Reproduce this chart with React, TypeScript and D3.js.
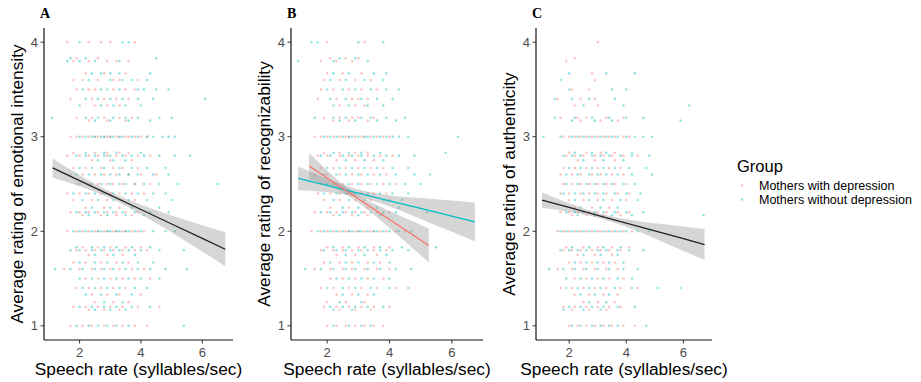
import React from "react";
import * as d3 from "d3";

// ---------- data ----------
const groups = ["Mothers with depression", "Mothers without depression"];
const groupColors = ["#F8766D", "#00BFC4"];
const panelLetters = ["A", "B", "C"];
const yTitles = [
  "Average rating of emotional intensity",
  "Average rating of recognizability",
  "Average rating of authenticity",
];
const xTitle = "Speech rate (syllables/sec)";
const xTicks = [2, 4, 6];
const yTicks = [1, 2, 3, 4];
const xDomain = [0.84, 7.0];
const yDomain = [0.85, 4.15];

type Row = [number, string, string]; // rating, x values (with depression), x values (without depression)

const scatterA: Row[] = [
  [4.0, "1.6 2.3 2.7 3.0 3.8", "2.0 3.4 3.6"],
  [3.83, "1.9 2.6", "1.7 2.2 4.5"],
  [3.8, "1.8 2.3 2.9 3.2 3.6", "1.6 2.0 2.5 3.3"],
  [3.67, "2.2 2.8 3.5", "2.4 2.7 3.0 3.3 4.3"],
  [3.6, "1.8 2.1 2.6 3.1 3.3 3.9", "2.3 3.0 3.4 3.7 4.2"],
  [3.5, "1.9 2.3 2.5 3.1 3.5 3.8", "2.1 2.7 2.9 3.3 3.9 4.1 4.5 4.9"],
  [3.4, "1.7 2.4 2.8 3.2 3.6", "2.2 2.6 3.0 3.4 3.9 4.4 6.1"],
  [3.33, "2.5 2.9 3.3", "2.0 2.7 3.1 3.5 4.0"],
  [3.2, "1.9 2.4 2.8 3.3 3.7", "1.1 2.2 2.6 3.1 3.5 3.9 4.6 5.0"],
  [3.17, "2.3 2.9 3.5", "2.5 3.0 3.6 4.3"],
  [3.0, "1.7 1.9 2.1 2.3 2.5 2.6 2.8 2.9 3.0 3.2 3.3 3.5 3.6 3.8 4.0 4.2", "2.0 2.2 2.4 2.5 2.7 2.8 3.0 3.1 3.3 3.4 3.7 3.9 4.2 4.4 4.7 4.9 5.1"],
  [2.83, "1.8 2.5 2.9 3.3 3.6", "2.2 2.8 3.2 4.0"],
  [2.8, "1.6 2.0 2.3 2.6 2.9 3.2 3.5 3.9 4.3", "1.9 2.2 2.5 2.8 3.0 3.4 3.7 4.1 4.6 5.1 5.6"],
  [2.75, "2.4 3.0 3.7", "2.6 3.1 3.5"],
  [2.67, "1.8 2.2 2.7 3.1 3.4 3.9", "2.0 2.4 2.8 3.3 3.7 4.2 4.8"],
  [2.6, "1.7 2.1 2.5 2.8 3.2 3.6 4.0 4.5", "1.9 2.3 2.7 3.0 3.3 3.6 3.9 4.4 4.9"],
  [2.5, "1.9 2.3 2.6 2.9 3.1 3.4 3.8 4.3", "2.0 2.4 2.7 3.0 3.3 3.5 3.8 4.1 4.6 5.2 6.5"],
  [2.4, "1.6 2.0 2.3 2.7 3.0 3.3 3.7 4.1", "1.8 2.2 2.5 2.8 3.1 3.5 3.9 4.4 4.8"],
  [2.33, "1.8 2.4 2.9 3.4 3.8", "2.1 2.6 3.1 3.6 4.2 5.0"],
  [2.25, "2.2 2.8 3.3", "2.4 3.0 3.7 4.6"],
  [2.2, "1.7 2.0 2.3 2.6 2.9 3.2 3.5 3.9", "1.9 2.2 2.5 2.8 3.1 3.4 3.8 4.3 4.9"],
  [2.17, "2.1 2.7 3.2 3.7", "2.3 2.9 3.5 4.1"],
  [2.0, "1.6 1.9 2.1 2.3 2.5 2.6 2.8 2.9 3.1 3.2 3.4 3.5 3.7 3.9 4.1", "1.8 2.0 2.2 2.4 2.6 2.7 2.9 3.0 3.2 3.3 3.5 3.6 3.8 4.0 4.4 4.8 5.1"],
  [1.83, "2.1 2.6 3.0 3.5 4.0", "1.9 2.4 2.8 3.2 3.7 4.3"],
  [1.8, "1.9 2.2 2.5 2.8 3.1 3.4 3.8 4.2", "1.7 2.0 2.4 2.7 3.0 3.3 3.6 4.0 4.6 5.4"],
  [1.75, "2.3 2.9 3.4", "2.5 3.1 3.8"],
  [1.67, "1.8 2.2 2.7 3.2 3.6", "2.0 2.5 2.9 3.4 3.9 4.4"],
  [1.6, "1.5 2.0 2.4 2.7 3.0 3.3 3.7 4.1", "1.2 1.7 2.1 2.5 2.8 3.1 3.5 3.9 4.3 4.8 5.5"],
  [1.5, "2.2 2.6 3.0 3.4 3.8 4.3", "2.0 2.4 2.8 3.2 3.6 4.0 4.6"],
  [1.4, "1.9 2.3 2.7 3.1 3.5", "2.1 2.5 2.9 3.3 3.8 4.2"],
  [1.33, "2.4 2.9 3.3 4.0", "2.2 2.7 3.2 3.7"],
  [1.25, "2.5 3.1 3.6", "2.8 3.4"],
  [1.2, "1.8 2.2 2.6 3.0 3.4 3.9 4.6", "2.0 2.4 2.8 3.2 3.7 4.3"],
  [1.17, "2.3 2.8 3.3", "2.5 3.0 3.5"],
  [1.0, "1.7 2.1 2.4 2.8 3.1 3.4 3.8 4.2", "1.9 2.3 2.6 2.9 3.2 3.6 5.4"],
];

const scatterB: Row[] = [
  [4.0, "2.0 3.2", "1.5 1.7 3.0 3.8"],
  [3.83, "2.1 2.6 3.0", "2.4 2.9"],
  [3.8, "1.8 2.3 2.8", "1.07 2.2 3.3"],
  [3.67, "2.0 2.5 3.1", "2.2 2.7 3.5 3.9"],
  [3.6, "1.9 2.4 2.9 3.4", "2.1 2.6 3.2 3.8"],
  [3.5, "1.8 2.2 2.7 3.1 3.6", "2.0 2.5 2.9 3.4 3.9 4.3"],
  [3.4, "1.7 2.3 2.8 3.0 3.3", "2.1 2.6 3.1 3.6 4.1"],
  [3.33, "2.4 2.9 3.2", "2.2 2.7 3.3 3.8"],
  [3.2, "1.9 2.4 2.8 3.0 3.5", "1.6 2.2 2.6 3.1 3.4 3.9 4.5"],
  [3.17, "2.2 2.7 3.3", "2.4 2.9 3.6 4.2"],
  [3.0, "1.6 1.8 2.0 2.2 2.4 2.6 2.7 2.9 3.1 3.2 3.4 3.6 3.8 4.0", "1.9 2.1 2.3 2.5 2.7 2.8 3.0 3.2 3.3 3.5 3.7 3.9 4.1 4.3 4.6 6.2"],
  [2.83, "1.9 2.4 2.9 3.3", "2.2 2.7 3.1 3.7 5.8"],
  [2.8, "1.7 2.0 2.4 2.7 3.0 3.3 3.7 4.1", "1.8 2.1 2.5 2.8 3.1 3.5 3.9 4.3 4.8"],
  [2.75, "2.3 2.9 3.5", "2.6 3.2 3.8"],
  [2.67, "1.8 2.2 2.6 3.0 3.4 3.8", "2.0 2.4 2.8 3.2 3.6 4.1 4.6"],
  [2.6, "1.6 2.0 2.4 2.8 3.1 3.5 3.9", "1.9 2.3 2.6 3.0 3.3 3.7 4.2 4.8 5.3"],
  [2.5, "1.8 2.2 2.5 2.8 3.1 3.4 3.8 4.2", "2.0 2.3 2.7 3.0 3.3 3.6 4.0 4.5 5.0"],
  [2.4, "1.7 2.1 2.4 2.8 3.1 3.5 3.9", "1.9 2.3 2.6 2.9 3.3 3.7 4.1 4.6"],
  [2.33, "1.9 2.4 2.9 3.4 4.0", "2.2 2.7 3.2 3.8 4.4"],
  [2.25, "2.1 2.7 3.3", "2.5 3.0 3.6 4.3"],
  [2.2, "1.6 2.0 2.3 2.6 2.9 3.2 3.6 4.0", "1.8 2.1 2.5 2.8 3.1 3.4 3.8 4.2 5.2"],
  [2.17, "2.2 2.8 3.3", "2.4 3.0 3.7"],
  [2.0, "1.5 1.8 2.0 2.2 2.4 2.6 2.7 2.9 3.0 3.2 3.4 3.5 3.7 3.9 4.2 4.5", "1.7 1.9 2.1 2.3 2.5 2.7 2.8 3.0 3.1 3.3 3.5 3.6 3.8 4.0 4.3 4.7"],
  [1.83, "2.0 2.5 3.0 3.5 4.0", "2.2 2.7 3.2 3.7 4.4 5.5"],
  [1.8, "1.8 2.2 2.5 2.8 3.1 3.5 3.9", "1.9 2.3 2.6 3.0 3.3 3.7 4.1 4.6"],
  [1.75, "2.3 2.9 3.6", "2.6 3.2 3.9"],
  [1.67, "1.9 2.4 2.8 3.3 3.7", "2.1 2.6 3.0 3.5 4.0"],
  [1.6, "1.6 2.1 2.5 2.8 3.2 3.6 4.0", "1.3 1.8 2.2 2.6 2.9 3.3 3.7 4.2 4.7"],
  [1.5, "2.1 2.5 2.9 3.3 3.8", "2.3 2.7 3.1 3.5 4.0"],
  [1.4, "1.8 2.2 2.7 3.1 3.6 4.2", "2.0 2.5 2.9 3.4 4.0 4.6"],
  [1.33, "2.3 2.8 3.3", "2.5 3.0 3.5"],
  [1.25, "2.0 2.6 3.2", "2.4 3.1"],
  [1.2, "1.9 2.3 2.7 3.1 3.5 4.0", "2.1 2.5 2.9 3.3 3.8"],
  [1.17, "2.4 2.9 3.4", "2.2 2.8"],
  [1.0, "2.0 2.3 2.6 2.9 3.2 3.5 3.8", "2.2 2.7 3.1 3.4"],
];

const scatterC: Row[] = [
  [4.0, "3.0", ""],
  [3.83, "2.2", ""],
  [3.8, "1.9", ""],
  [3.67, "2.8", "2.0 3.3 4.3"],
  [3.6, "2.9", "1.7"],
  [3.5, "2.1 2.7", "2.0 3.5 4.0"],
  [3.4, "1.6 2.4 2.9", "1.5 2.1 2.7 3.6"],
  [3.33, "2.2 3.0", "2.5 3.9 6.2"],
  [3.2, "1.7 2.3 2.6 3.3 3.9", "1.5 2.2 2.8 3.4 4.0 4.6"],
  [3.17, "2.4 3.1 3.7", "2.1 2.9 3.5 5.9"],
  [3.0, "1.8 2.0 2.2 2.4 2.6 2.8 3.0 3.2 3.4 3.6 3.9 4.1", "1.1 1.7 2.1 2.3 2.5 2.7 2.9 3.1 3.3 3.5 3.7 4.0 4.3 4.6 4.9"],
  [2.83, "2.0 2.6 3.1 3.6", "2.2 2.8 3.3 4.2"],
  [2.8, "1.9 2.2 2.5 2.9 3.2 3.5 3.9 4.4", "1.8 2.1 2.4 2.8 3.1 3.4 3.8 4.2 4.8"],
  [2.75, "2.3 2.9 3.6", "2.5 3.2 3.9"],
  [2.67, "1.8 2.2 2.6 3.0 3.4 3.8", "2.0 2.4 2.8 3.2 3.6 4.1 4.7"],
  [2.6, "1.7 2.1 2.4 2.8 3.1 3.5 3.9", "1.9 2.3 2.7 3.0 3.3 3.7 4.2 4.9"],
  [2.5, "1.8 2.1 2.4 2.7 3.0 3.3 3.6 4.0", "1.9 2.3 2.6 2.9 3.2 3.5 3.9 4.3"],
  [2.4, "1.7 2.0 2.4 2.7 3.0 3.3 3.7 4.1", "1.8 2.2 2.5 2.9 3.2 3.6 4.0 4.5"],
  [2.33, "2.0 2.5 3.0 3.5 4.0", "2.2 2.7 3.2 3.8 4.4"],
  [2.25, "2.2 2.8 3.4", "2.4 3.1 3.7"],
  [2.2, "1.7 2.0 2.3 2.7 3.0 3.3 3.7 4.1", "1.9 2.2 2.5 2.9 3.2 3.6 4.0 4.6"],
  [2.17, "2.1 2.6 3.2 3.8", "2.3 2.9 3.5 4.2 6.7"],
  [2.0, "1.6 1.8 2.0 2.2 2.4 2.6 2.8 3.0 3.1 3.3 3.5 3.7 3.9 4.2", "1.7 1.9 2.1 2.3 2.5 2.7 2.9 3.2 3.4 3.6 3.8 4.0 4.4 4.8"],
  [1.83, "1.9 2.5 3.0 3.5 4.1", "2.1 2.7 3.2 3.8"],
  [1.8, "1.8 2.1 2.4 2.8 3.1 3.4 3.8", "1.7 2.0 2.3 2.6 3.0 3.3 3.7 4.1 4.6"],
  [1.75, "2.3 2.9 3.5", "2.5 3.1 3.7"],
  [1.67, "2.0 2.4 2.8 3.2 3.6", "2.2 2.6 3.0 3.4 3.9"],
  [1.6, "1.6 2.1 2.5 2.9 3.3 3.7", "1.3 1.8 2.2 2.6 3.0 3.4 3.9 4.4"],
  [1.5, "2.2 2.6 3.0 3.4 3.9", "1.9 2.4 2.8 3.2 3.7 4.2"],
  [1.4, "1.7 2.1 2.5 2.9 3.3 3.8 4.4", "1.9 2.3 2.7 3.1 3.6 4.2 5.1 5.9"],
  [1.33, "2.2 2.7 3.2 3.7", "2.4 2.9 3.4"],
  [1.25, "2.5 3.0 3.6", "2.7 3.3"],
  [1.2, "1.8 2.2 2.6 3.0 3.4 3.8", "2.0 2.4 2.8 3.2 3.7 4.3"],
  [1.17, "2.1 2.7 3.3", "1.8 2.5 3.1"],
  [1.0, "2.0 2.3 2.6 2.9 3.2 3.5 3.9 4.3", "2.1 2.4 2.8 3.1 3.4 3.7 4.7"],
];

// fitted regression lines with confidence bands (group -1 = pooled, black)
type Fit = { group: number; x: number[]; mean: number[]; half: number[] };

const fitsA: Fit[] = [
  {
    group: -1,
    x: [1.12, 2, 3, 4, 5, 6, 6.75],
    mean: [2.67, 2.535, 2.383, 2.23, 2.077, 1.925, 1.81],
    half: [0.1, 0.06, 0.035, 0.05, 0.09, 0.14, 0.18],
  },
];
const fitsB: Fit[] = [
  {
    group: 1,
    x: [1.07, 2, 3, 4, 5, 6, 6.74],
    mean: [2.56, 2.485, 2.403, 2.322, 2.241, 2.16, 2.1],
    half: [0.125, 0.07, 0.04, 0.06, 0.11, 0.165, 0.205],
  },
  {
    group: 0,
    x: [1.42, 2, 2.5, 3, 3.5, 4, 4.5, 5.26],
    mean: [2.69, 2.563, 2.453, 2.344, 2.234, 2.125, 2.016, 1.85],
    half: [0.14, 0.08, 0.045, 0.04, 0.06, 0.09, 0.125, 0.18],
  },
];
const fitsC: Fit[] = [
  {
    group: -1,
    x: [1.05, 2, 3, 4, 5, 6, 6.74],
    mean: [2.33, 2.252, 2.169, 2.087, 2.004, 1.921, 1.86],
    half: [0.08, 0.045, 0.025, 0.04, 0.08, 0.13, 0.165],
  },
];

const scatters = [scatterA, scatterB, scatterC];
const fits = [fitsA, fitsB, fitsC];

// ---------- layout ----------
const W = 921;
const H = 382;
const plotTop = 28;
const plotBottom = 340;
const panelLeft = [44, 291, 536];
const panelRight = [233, 483, 712];
const font = "'Liberation Sans', Arial, sans-serif";

function parseXs(s: string): number[] {
  return s.trim() === "" ? [] : s.trim().split(/\s+/).map(Number);
}

function Panel({ i }: { i: number }) {
  const x = d3.scaleLinear().domain(xDomain).range([panelLeft[i], panelRight[i]]);
  const y = d3.scaleLinear().domain(yDomain).range([plotBottom, plotTop]);
  const rows = scatters[i];
  const pts: { x: number; y: number; g: number }[] = [];
  rows.forEach(([r, a, b]) => {
    parseXs(a).forEach((v) => pts.push({ x: v, y: r, g: 0 }));
    parseXs(b).forEach((v) => pts.push({ x: v, y: r, g: 1 }));
  });
  const L = panelLeft[i];
  const R = panelRight[i];
  const midY = (plotTop + plotBottom) / 2;
  return (
    <g>
      {pts.map((p, k) => (
        <circle
          key={k}
          cx={x(p.x)}
          cy={y(p.y)}
          r={1.3}
          fill={groupColors[p.g]}
          fillOpacity={0.42}
        />
      ))}
      {fits[i].map((f, k) => {
        const idx = f.x.map((_, j) => j);
        const band = d3
          .area<number>()
          .x((j) => x(f.x[j]))
          .y0((j) => y(f.mean[j] - f.half[j]))
          .y1((j) => y(f.mean[j] + f.half[j]))
          .curve(d3.curveMonotoneX)(idx);
        return (
          <path key={"b" + k} d={band || ""} fill="#999999" fillOpacity={0.4} />
        );
      })}
      {fits[i].map((f, k) => {
        const line = d3
          .line<number>()
          .x((j) => x(f.x[j]))
          .y((j) => y(f.mean[j]))(f.x.map((_, j) => j));
        return (
          <path
            key={"l" + k}
            d={line || ""}
            fill="none"
            stroke={f.group < 0 ? "#222222" : groupColors[f.group]}
            strokeWidth={1.3}
          />
        );
      })}
      {/* axes */}
      <line x1={L} x2={L} y1={plotTop} y2={plotBottom} stroke="#111" strokeWidth={1.2} />
      <line x1={L} x2={R} y1={plotBottom} y2={plotBottom} stroke="#111" strokeWidth={1.2} />
      {yTicks.map((t) => (
        <g key={"y" + t}>
          <line x1={L - 3.5} x2={L} y1={y(t)} y2={y(t)} stroke="#333" strokeWidth={1} />
          <text
            x={L - 6}
            y={y(t)}
            dy="0.36em"
            textAnchor="end"
            fontSize={13}
            fill="#4D4D4D"
            fontFamily={font}
          >
            {t}
          </text>
        </g>
      ))}
      {xTicks.map((t) => (
        <g key={"x" + t}>
          <line x1={x(t)} x2={x(t)} y1={plotBottom} y2={plotBottom + 3.5} stroke="#333" strokeWidth={1} />
          <text
            x={x(t)}
            y={plotBottom + 17}
            textAnchor="middle"
            fontSize={13}
            fill="#4D4D4D"
            fontFamily={font}
          >
            {t}
          </text>
        </g>
      ))}
      <text
        x={(L + R) / 2}
        y={375}
        textAnchor="middle"
        fontSize={17.3}
        fill="#000"
        fontFamily={font}
      >
        {xTitle}
      </text>
      <text
        transform={`translate(${L - 27},${midY}) rotate(-90)`}
        textAnchor="middle"
        dy="0.36em"
        fontSize={17.3}
        fill="#000"
        fontFamily={font}
      >
        {yTitles[i]}
      </text>
      <text
        x={L - 4}
        y={18}
        fontSize={14}
        fontWeight="bold"
        fontFamily="'Liberation Serif', 'Times New Roman', serif"
        fill="#000"
      >
        {panelLetters[i]}
      </text>
    </g>
  );
}

export default function App() {
  return (
    <svg
      width={W}
      height={H}
      viewBox={`0 0 ${W} ${H}`}
      style={{ position: "absolute", left: 0, top: 0, background: "#fff" }}
    >
      <rect x={0} y={0} width={W} height={H} fill="#fff" />
      {[0, 1, 2].map((i) => (
        <Panel key={i} i={i} />
      ))}
      <g>
        <text x={737} y={172} fontSize={16.5} fontFamily={font} fill="#000">
          Group
        </text>
        {groups.map((g, k) => (
          <g key={g}>
            <circle cx={742} cy={185.5 + k * 14} r={1.3} fill={groupColors[k]} fillOpacity={0.42} />
            <text x={759} y={189.5 + k * 14} fontSize={12.5} fontFamily={font} fill="#000">
              {g}
            </text>
          </g>
        ))}
      </g>
    </svg>
  );
}
